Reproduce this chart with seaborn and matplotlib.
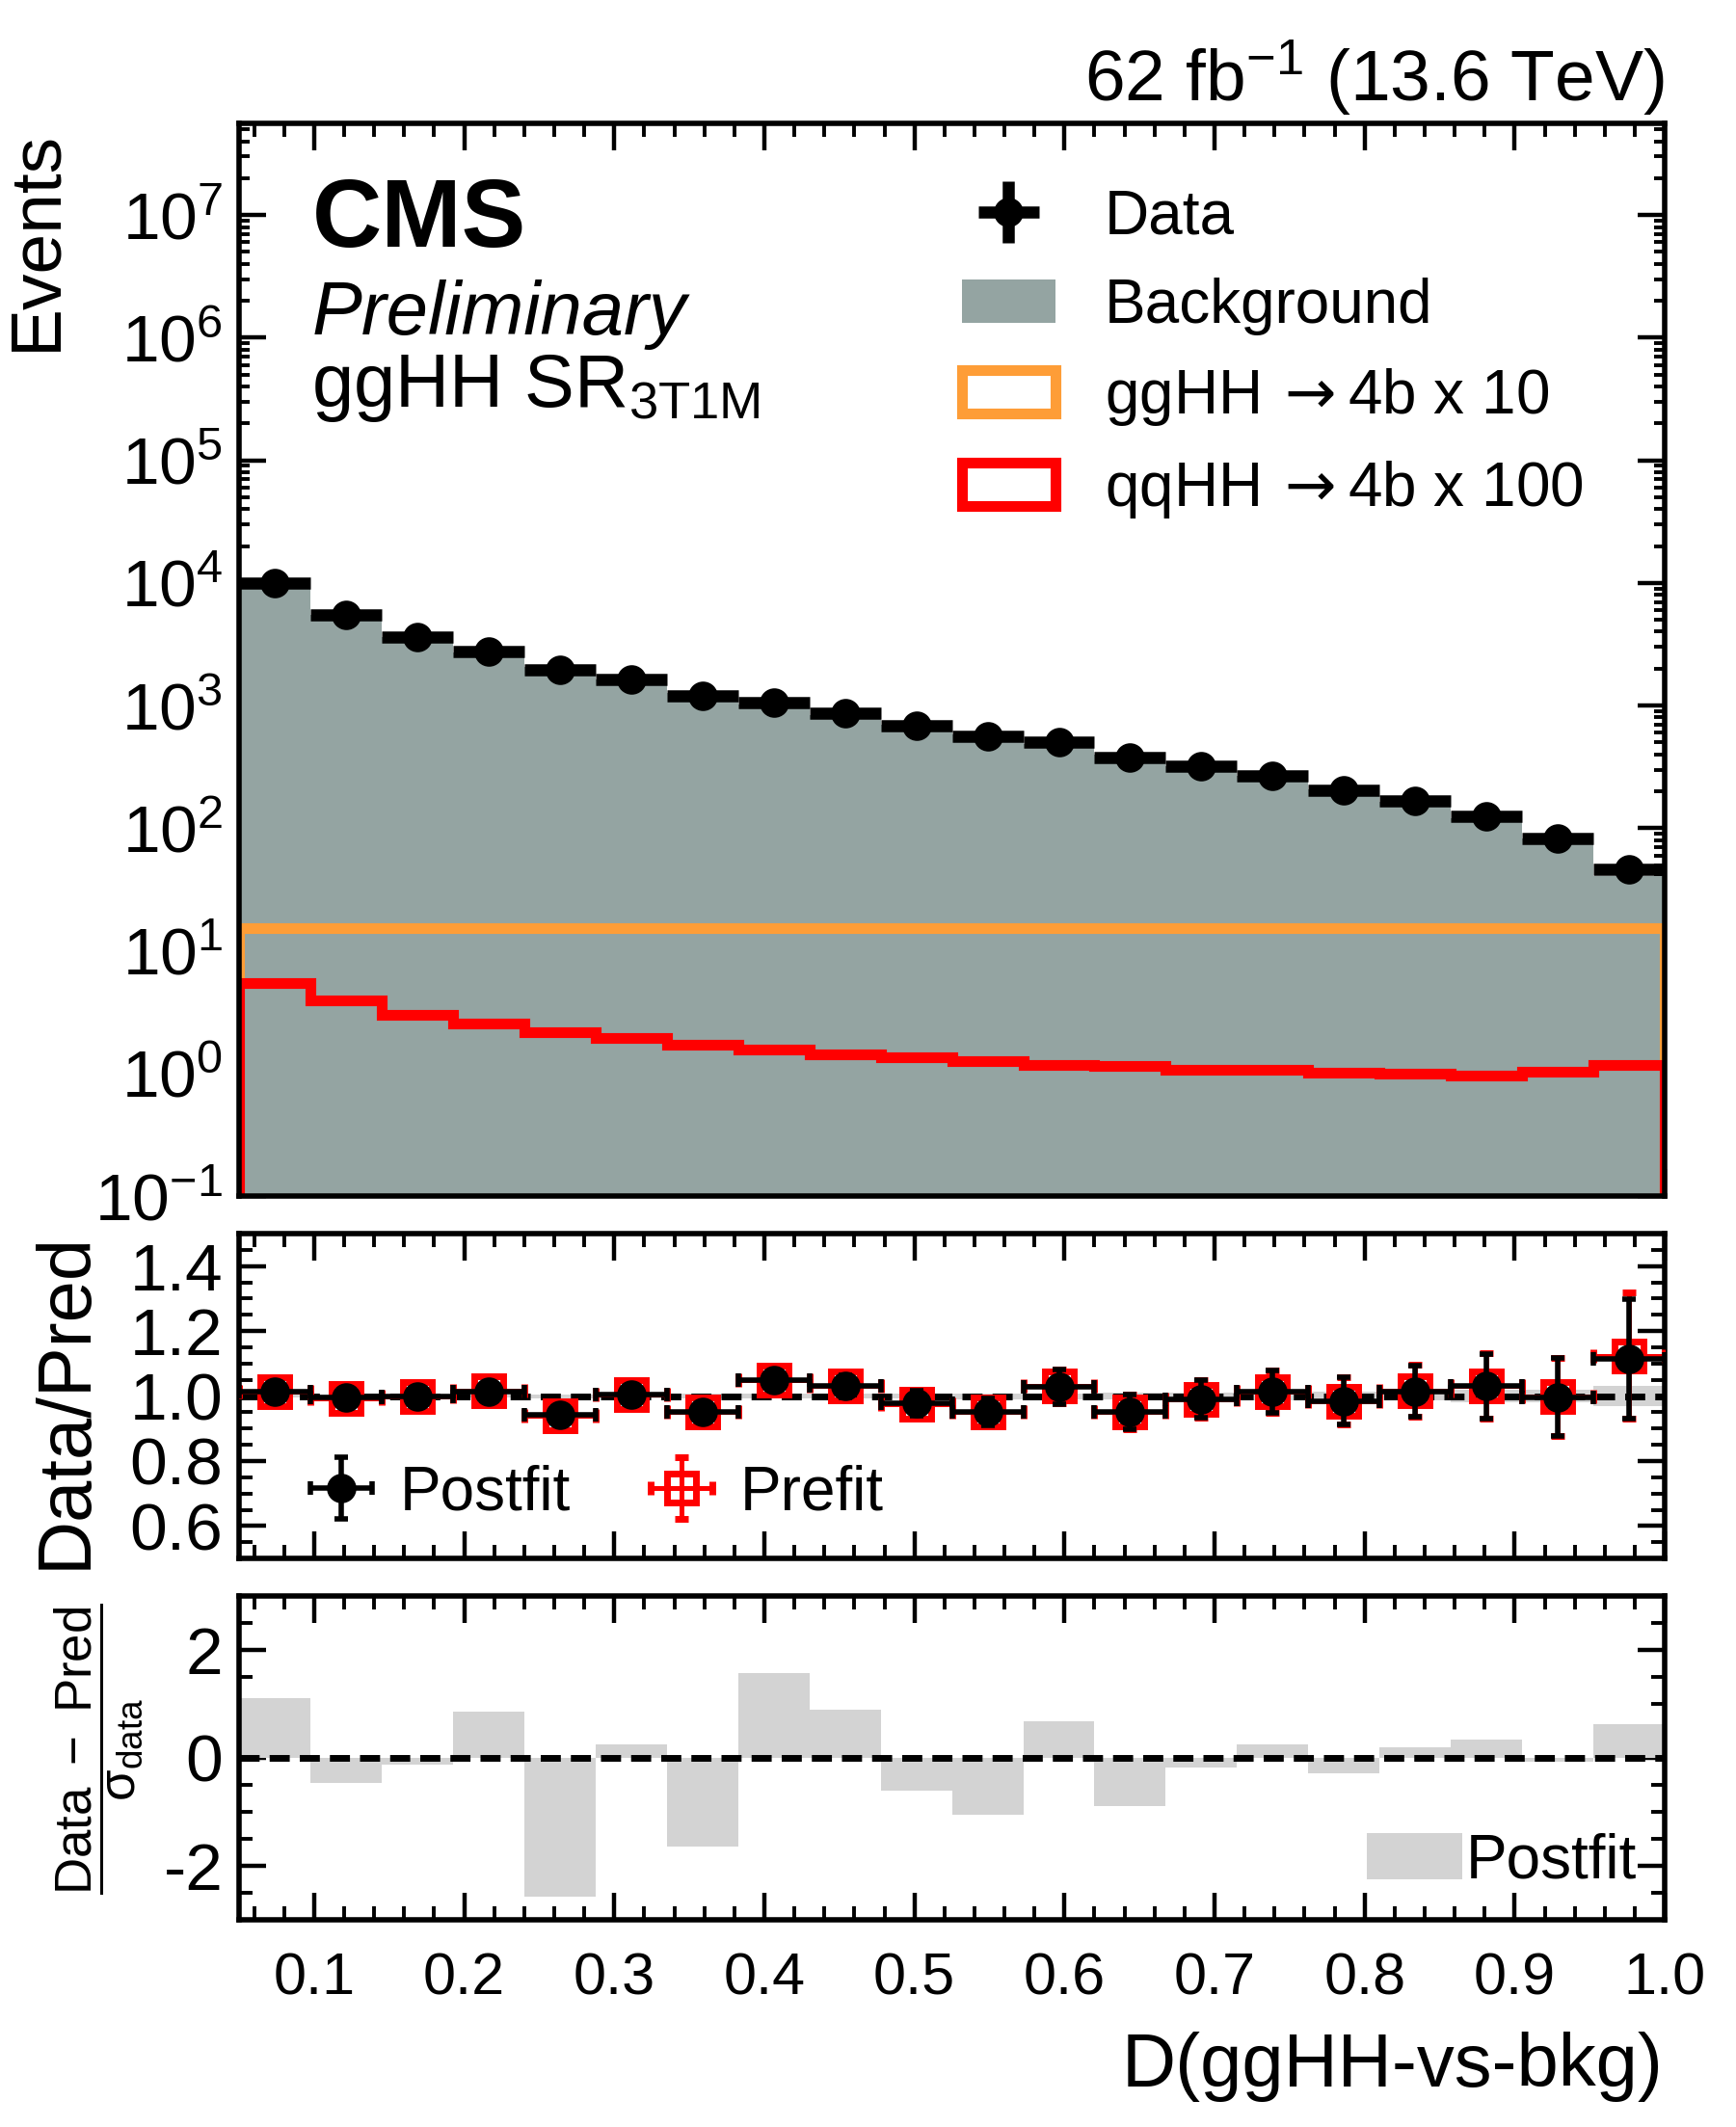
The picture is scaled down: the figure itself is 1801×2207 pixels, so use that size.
import numpy as np
import pandas as pd
import matplotlib
matplotlib.use("Agg")
import matplotlib.pyplot as plt
import seaborn as sns
from matplotlib.patches import Patch
from matplotlib.ticker import MultipleLocator, LogLocator, NullFormatter, FormatStrFormatter

sns.set_style("ticks")
plt.rcParams['font.family'] = ['Liberation Sans', 'DejaVu Sans']
plt.rcParams['mathtext.fontset'] = 'custom'
plt.rcParams['mathtext.rm'] = 'Liberation Sans'
plt.rcParams['mathtext.it'] = 'Liberation Sans:italic'
plt.rcParams['mathtext.bf'] = 'Liberation Sans:bold'
plt.rcParams['mathtext.sf'] = 'Liberation Sans'
plt.rcParams['axes.linewidth'] = 2.0
plt.rcParams['axes.edgecolor'] = 'black'
plt.rcParams['text.color'] = 'black'
plt.rcParams['axes.labelcolor'] = 'black'
plt.rcParams['xtick.color'] = 'black'
plt.rcParams['ytick.color'] = 'black'

# ---------------------------------------------------------------------------
# values
# ---------------------------------------------------------------------------
bin_edges = [0.05, 0.0975, 0.145, 0.1925, 0.24, 0.2875, 0.335, 0.3825, 0.43, 0.4775,
             0.525, 0.5725, 0.62, 0.6675, 0.715, 0.7625, 0.81, 0.8575, 0.905, 0.9525, 1.0]

data = [10000, 5460, 3640, 2750, 1940, 1630, 1195, 1067, 865, 684,
        558, 503, 379, 318, 268, 204, 166, 125, 82, 46]
data_err = [100, 74, 60, 52, 44, 40, 35, 33, 29, 26,
            24, 22, 19, 18, 16, 14, 13, 11, 9, 7]
background = [9870, 5490, 3650, 2710, 2060, 1620, 1260, 1020, 840, 700,
              587, 489, 398, 321, 265, 207, 164, 121, 82, 41]
gghh_x10 = [15.2, 15.2, 15.2, 15.2, 15.2, 15.2, 15.2, 15.2, 15.2, 15.2,
            15.2, 15.2, 15.2, 15.2, 15.2, 15.2, 15.2, 15.2, 15.2, 15.2]
qqhh_x100 = [5.46, 3.95, 3.03, 2.53, 2.15, 1.94, 1.72, 1.56, 1.44, 1.36,
             1.27, 1.17, 1.16, 1.08, 1.07, 1.02, 1.00, 0.96, 1.03, 1.18]

ratio_postfit = [1.013, 0.995, 0.998, 1.015, 0.941, 1.005, 0.951, 1.048, 1.030, 0.977,
                 0.951, 1.028, 0.952, 0.990, 1.013, 0.985, 1.015, 1.030, 0.997, 1.114]
ratio_postfit_err = [0.010, 0.013, 0.016, 0.019, 0.023, 0.025, 0.029, 0.031, 0.034, 0.039,
                     0.042, 0.053, 0.054, 0.058, 0.066, 0.072, 0.080, 0.100, 0.120, 0.185]
ratio_prefit = [1.013, 0.994, 0.998, 1.016, 0.940, 1.005, 0.950, 1.050, 1.031, 0.976,
                0.950, 1.030, 0.951, 0.991, 1.014, 0.985, 1.016, 1.031, 0.998, 1.124]
ratio_prefit_err = [0.010, 0.013, 0.016, 0.019, 0.023, 0.025, 0.029, 0.031, 0.034, 0.039,
                    0.042, 0.053, 0.054, 0.058, 0.066, 0.072, 0.080, 0.100, 0.120, 0.195]
bkg_band = [0.004, 0.004, 0.005, 0.005, 0.006, 0.006, 0.007, 0.007, 0.008, 0.008,
            0.009, 0.009, 0.010, 0.011, 0.012, 0.013, 0.014, 0.018, 0.020, 0.030]

pulls = [1.11, -0.46, -0.12, 0.85, -2.57, 0.25, -1.65, 1.57, 0.90, -0.60,
         -1.06, 0.67, -0.90, -0.18, 0.25, -0.28, 0.20, 0.34, -0.08, 0.62]

x_ticks = [0.1, 0.2, 0.3, 0.4, 0.5, 0.6, 0.7, 0.8, 0.9, 1.0]

# colours
c_bkg = '#94a4a2'
c_gghh = '#fe9d37'
c_qqhh = '#ff0000'
c_pull = '#d3d3d3'

edges = np.array(bin_edges)
centers = 0.5 * (edges[:-1] + edges[1:])
halfw = 0.5 * (edges[1:] - edges[:-1])
hist_df = pd.DataFrame({'x': centers, 'bkg': background, 'pull': pulls})

fig = plt.figure(figsize=(9.005, 11.035), dpi=200)
L, W = 0.1377, 0.8213
ax = fig.add_axes([L, 0.4377, W, 0.942 - 0.4377])
axr = fig.add_axes([L, 0.2673, W, 0.42 - 0.2673])
axp = fig.add_axes([L, 0.0974, W, 0.2497 - 0.0974])

XTICK = 22
YTICK = 25
LEG = 23
LAB = 27

def style_axis(a):
    a.tick_params(which='both', direction='in', top=True, right=True, color='black')
    a.tick_params(axis='x', labelsize=XTICK)
    a.tick_params(axis='y', labelsize=YTICK)
    a.tick_params(which='major', length=10, width=1.6)
    a.tick_params(which='minor', length=5, width=1.4)
    a.tick_params(axis='y', which='major', pad=6)
    a.tick_params(axis='x', which='major', pad=12)
    a.set_xlim(0.05, 1.0)
    a.xaxis.set_major_locator(MultipleLocator(0.1))
    a.xaxis.set_minor_locator(MultipleLocator(0.02))
    for s in a.spines.values():
        s.set_linewidth(2.0)
        s.set_color('black')
    a.set_xlabel('')
    a.set_ylabel('')

# ---------------------------------------------------------------------------
# main panel
# ---------------------------------------------------------------------------
ax.set_yscale('log')
sns.histplot(data=hist_df, x='x', weights='bkg', bins=bin_edges, element='bars',
             color=c_bkg, alpha=1.0, linewidth=0, ax=ax)
ax.stairs(gghh_x10, edges, baseline=1e-3, fill=False, color=c_gghh, linewidth=4)
ax.stairs(qqhh_x100, edges, baseline=1e-3, fill=False, color=c_qqhh, linewidth=4)
h_data = ax.errorbar(centers, data, xerr=halfw, yerr=data_err, fmt='o', color='black',
                     markersize=10, elinewidth=4.5, capsize=0, zorder=5)
ax.set_ylim(0.1, 5.6e7)
style_axis(ax)
ax.yaxis.set_major_locator(LogLocator(base=10, numticks=20))
ax.yaxis.set_minor_locator(LogLocator(base=10, subs=np.arange(2, 10), numticks=20))
ax.yaxis.set_minor_formatter(NullFormatter())
ax.tick_params(axis='x', labelbottom=False)
ax.tick_params(axis='y', which='minor', length=4)

handles = [h_data,
           Patch(facecolor=c_bkg, edgecolor='none'),
           Patch(facecolor='white', edgecolor=c_gghh, linewidth=4),
           Patch(facecolor='white', edgecolor=c_qqhh, linewidth=4)]
labels = ['Data', 'Background', r'ggHH$\,\rightarrow$4b x 10', r'qqHH$\,\rightarrow$4b x 100']
leg = ax.legend(handles, labels, loc='upper left', bbox_to_anchor=(0.507, 0.939),
                frameon=False, fontsize=LEG, handlelength=1.52, handleheight=0.72,
                handletextpad=0.8, labelspacing=0.5, borderpad=0, borderaxespad=0)
for t in leg.get_texts()[2:]:
    t.set_math_fontfamily('dejavusans')

ax.text(0.051, 0.885, 'CMS', transform=ax.transAxes, fontsize=36,
        fontweight='bold', va='baseline', ha='left')
ax.text(0.051, 0.803, 'Preliminary', transform=ax.transAxes, fontsize=28,
        style='italic', va='baseline', ha='left')
ax.text(0.051, 0.736, r'ggHH SR$_{\mathrm{3T1M}}$', transform=ax.transAxes,
        fontsize=28, va='baseline', ha='left')
ax.text(1.0, 1.005, r'62 fb$^{-1}$ (13.6 TeV)', transform=ax.transAxes,
        fontsize=LAB, va='bottom', ha='right')

# ---------------------------------------------------------------------------
# ratio panel
# ---------------------------------------------------------------------------
band_hi = np.array(bkg_band) + 1.0
band_lo = 1.0 - np.array(bkg_band)
axr.stairs(band_hi, edges, baseline=band_lo, fill=True, color=c_pull, linewidth=0, zorder=1)
axr.axhline(1.0, color='black', linestyle=(0, (3, 1.5)), linewidth=2.5, zorder=2)
h_pre = axr.errorbar(centers, ratio_prefit, xerr=halfw, yerr=ratio_prefit_err, fmt='s',
                     color='red', mfc='none', mec='red', mew=2.5, markersize=11,
                     elinewidth=1.8, capsize=2.5, capthick=1.8, zorder=3)
h_post = axr.errorbar(centers, ratio_postfit, xerr=halfw, yerr=ratio_postfit_err, fmt='o',
                      color='black', markersize=10, elinewidth=2.0, capsize=2.5,
                      capthick=2.0, zorder=4)
axr.set_ylim(0.5, 1.5)
style_axis(axr)
axr.yaxis.set_major_locator(MultipleLocator(0.2))
axr.yaxis.set_minor_locator(MultipleLocator(0.05))
axr.yaxis.set_major_formatter(FormatStrFormatter('%.1f'))
axr.set_yticks([0.6, 0.8, 1.0, 1.2, 1.4])
axr.tick_params(axis='x', labelbottom=False)
axr.legend([h_post, h_pre], ['Postfit', 'Prefit'], loc='center left',
           bbox_to_anchor=(0.05, 0.2), ncol=2, frameon=False, fontsize=LEG,
           handlelength=1.0, handletextpad=0.45, columnspacing=1.3,
           borderpad=0, borderaxespad=0)

# ---------------------------------------------------------------------------
# pull panel
# ---------------------------------------------------------------------------
sns.histplot(data=hist_df, x='x', weights='pull', bins=bin_edges, element='bars',
             color=c_pull, alpha=1.0, linewidth=0, ax=axp)
axp.axhline(0.0, color='black', linestyle=(0, (3, 1.5)), linewidth=2.5)
axp.set_ylim(-3, 3)
style_axis(axp)
axp.yaxis.set_major_locator(MultipleLocator(2))
axp.yaxis.set_minor_locator(MultipleLocator(0.5))
axp.set_xticks(x_ticks)
axp.set_xticklabels(['%.1f' % t for t in x_ticks])
axp.set_yticks([-2, 0, 2])
axp.set_yticklabels(['-2', '0', '2'])
axp.set_xlim(0.05, 1.0)
axp.legend([Patch(facecolor=c_pull, edgecolor='none')], ['Postfit'], loc='center right',
           bbox_to_anchor=(0.98, 0.18), frameon=False, fontsize=LEG,
           handlelength=1.55, handleheight=0.78, handletextpad=0.05,
           borderpad=0, borderaxespad=0)

# axis titles
fig.text(0.002, 0.939, 'Events', rotation=90, ha='left', va='top', fontsize=LAB)
fig.text(0.038, 0.3416, 'Data/Pred', rotation=90, ha='center', va='center', fontsize=28)
fig.text(0.057, 0.1776,
         r'$\dfrac{\mathrm{Data}\ -\ \mathrm{Pred}}{\mathrm{σ}_{\mathrm{data}}}$',
         rotation=90, ha='center', va='center', fontsize=19)
fig.text(0.958, 0.019, 'D(ggHH-vs-bkg)', ha='right', va='baseline', fontsize=28)

fig.savefig('out.png', dpi=200)
